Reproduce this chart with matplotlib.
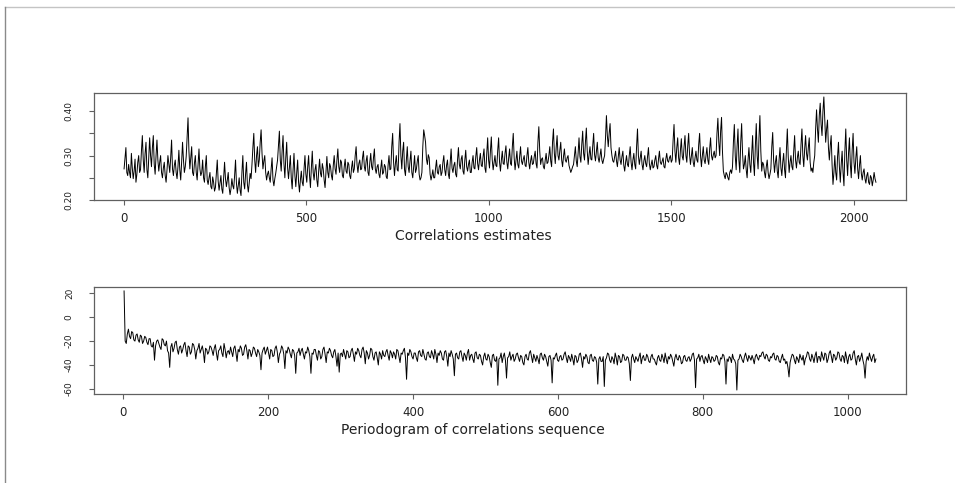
import numpy as np
import matplotlib
matplotlib.use("Agg")
import matplotlib.pyplot as plt
from matplotlib.lines import Line2D

# ---- data ----
# correlation estimates, in thousandths, sampled every ~2.5 steps over 1..2060
corr_milli = [
    270, 295, 318, 262, 255, 280, 262, 250, 305, 272, 248, 265, 292, 240, 258, 285, 300, 262, 268, 310,
    345, 290, 262, 305, 330, 268, 250, 295, 340, 300, 275, 318, 345, 280, 258, 300, 335, 290, 265, 285,
    300, 262, 250, 272, 285, 255, 240, 268, 300, 280, 262, 295, 335, 270, 255, 278, 290, 262, 248, 275,
    312, 268, 245, 285, 330, 290, 262, 275, 298, 340, 385, 310, 270, 295, 320, 262, 255, 282, 300, 262,
    245, 280, 315, 270, 255, 262, 290, 250, 240, 275, 300, 245, 235, 250, 262, 230, 225, 252, 240, 220,
    228, 260, 290, 242, 222, 238, 255, 225, 215, 250, 285, 248, 230, 245, 262, 228, 212, 225, 248, 232,
    225, 255, 290, 238, 215, 232, 250, 222, 210, 262, 300, 240, 225, 258, 285, 235, 218, 240, 260, 248,
    280, 318, 350, 290, 262, 300, 320, 275, 290, 330, 358, 305, 270, 288, 300, 262, 245, 258, 265, 250,
    240, 270, 295, 245, 232, 248, 260, 275, 290, 322, 355, 290, 265, 310, 345, 282, 250, 295, 330, 272,
    248, 275, 300, 250, 225, 268, 305, 255, 230, 262, 290, 240, 218, 245, 265, 240, 232, 270, 300, 258,
    240, 275, 300, 255, 228, 272, 310, 262, 245, 268, 280, 245, 230, 265, 292, 260, 252, 282, 270, 245,
    228, 265, 298, 262, 250, 282, 275, 255, 245, 278, 300, 270, 258, 290, 315, 275, 262, 290, 285, 255,
    250, 275, 292, 265, 260, 285, 280, 255, 248, 272, 288, 262, 270, 300, 320, 280, 262, 282, 290, 268,
    270, 295, 310, 275, 265, 288, 300, 262, 255, 285, 305, 275, 268, 295, 315, 270, 260, 275, 280, 258,
    250, 272, 290, 258, 262, 280, 275, 252, 248, 278, 300, 268, 270, 320, 350, 285, 255, 282, 300, 268,
    265, 330, 372, 300, 270, 310, 330, 268, 255, 290, 320, 275, 262, 288, 310, 262, 250, 275, 300, 262,
    270, 288, 300, 258, 245, 250, 262, 320, 358, 345, 330, 292, 280, 302, 295, 258, 245, 255, 268, 250,
    250, 272, 290, 262, 258, 275, 280, 255, 262, 285, 300, 268, 255, 278, 290, 258, 248, 285, 315, 272,
    262, 278, 285, 258, 252, 290, 318, 280, 270, 292, 300, 265, 258, 290, 312, 275, 265, 280, 290, 262,
    262, 285, 300, 272, 270, 298, 318, 282, 268, 290, 305, 278, 275, 298, 315, 272, 262, 305, 340, 290,
    272, 310, 342, 290, 268, 285, 300, 278, 275, 312, 340, 285, 265, 290, 310, 282, 280, 305, 322, 285,
    270, 295, 315, 282, 278, 320, 350, 295, 268, 290, 310, 280, 272, 298, 320, 288, 280, 292, 300, 278,
    275, 300, 318, 285, 270, 288, 300, 280, 282, 298, 310, 282, 272, 330, 365, 310, 280, 292, 295, 275,
    270, 290, 305, 282, 285, 300, 320, 288, 275, 330, 360, 305, 282, 318, 345, 300, 290, 312, 330, 290,
    275, 298, 315, 290, 285, 295, 300, 278, 270, 262, 268, 275, 280, 300, 320, 288, 275, 305, 340, 298,
    285, 325, 355, 305, 290, 330, 362, 310, 280, 302, 320, 292, 290, 322, 350, 302, 288, 310, 330, 295,
    285, 300, 315, 290, 282, 292, 300, 340, 390, 345, 320, 350, 372, 318, 300, 288, 285, 298, 310, 288,
    275, 298, 318, 290, 280, 298, 310, 278, 265, 285, 300, 280, 275, 300, 320, 285, 268, 290, 305, 280,
    270, 320, 360, 300, 280, 295, 310, 280, 268, 288, 300, 282, 275, 298, 318, 282, 268, 280, 290, 272,
    275, 290, 300, 278, 270, 292, 310, 285, 280, 288, 295, 275, 272, 292, 305, 288, 285, 295, 300, 285,
    290, 335, 370, 310, 285, 318, 340, 295, 280, 312, 338, 298, 290, 320, 345, 300, 285, 322, 350, 302,
    280, 300, 318, 285, 275, 295, 310, 290, 285, 325, 350, 300, 275, 300, 320, 290, 282, 300, 318, 290,
    280, 315, 340, 300, 290, 302, 310, 295, 300, 350, 384, 330, 300, 355, 386, 310, 265, 255, 248, 262,
    258, 250, 245, 262, 268, 260, 275, 330, 370, 300, 268, 320, 360, 290, 262, 330, 372, 305, 270, 280,
    300, 268, 250, 290, 318, 280, 262, 305, 345, 285, 255, 320, 372, 300, 270, 340, 390, 310, 265, 285,
    280, 262, 250, 275, 290, 262, 248, 258, 270, 320, 352, 290, 262, 285, 300, 265, 250, 290, 318, 272,
    255, 285, 305, 268, 250, 312, 360, 298, 262, 285, 300, 275, 268, 310, 345, 290, 272, 295, 310, 285,
    280, 325, 360, 300, 275, 315, 345, 305, 290, 318, 340, 285, 265, 272, 262, 285, 300, 360, 403, 360,
    330, 390, 418, 370, 345, 400, 432, 380, 330, 360, 380, 318, 290, 322, 345, 280, 235, 262, 300, 262,
    245, 298, 330, 275, 240, 280, 310, 262, 232, 310, 360, 290, 255, 305, 340, 280, 250, 312, 350, 285,
    260, 295, 320, 270, 248, 278, 300, 260, 245, 262, 270, 248, 238, 255, 262, 240, 235, 255, 250, 232,
    245, 262, 248, 240,
]
corr_first, corr_last = 1, 2060

# periodogram (dB), sampled every 1.5 steps over 1..1039
period_db = [
    22, -20, -22, -14, -10, -16, -18, -12, -13, -19, -20, -15, -14, -19, -21, -15, -16, -22, -20, -16,
    -17, -21, -23, -18, -18, -24, -25, -21, -36, -24, -20, -19, -22, -25, -27, -18, -19, -23, -24, -20,
    -28, -30, -42, -25, -22, -29, -26, -21, -20, -27, -31, -25, -24, -30, -27, -23, -21, -28, -33, -24,
    -25, -31, -29, -22, -23, -27, -35, -28, -26, -22, -30, -27, -24, -29, -38, -26, -27, -31, -29, -24,
    -25, -28, -32, -26, -23, -30, -36, -28, -27, -24, -30, -33, -22, -27, -34, -29, -28, -31, -25, -29,
    -33, -26, -24, -30, -37, -27, -29, -24, -26, -32, -31, -25, -23, -28, -35, -27, -28, -33, -30, -25,
    -26, -30, -33, -27, -29, -32, -44, -30, -27, -25, -31, -28, -25, -30, -35, -27, -28, -33, -32, -26,
    -24, -29, -38, -31, -29, -24, -26, -31, -43, -28, -30, -25, -27, -31, -34, -27, -28, -32, -47, -30,
    -29, -26, -32, -28, -26, -31, -35, -29, -30, -25, -28, -33, -47, -30, -31, -27, -27, -32, -36, -28,
    -29, -35, -33, -27, -25, -31, -38, -29, -30, -26, -28, -32, -34, -29, -27, -33, -41, -30, -46, -31,
    -30, -33, -27, -31, -35, -28, -29, -34, -33, -28, -26, -31, -37, -29, -31, -26, -28, -32, -34, -27,
    -25, -30, -39, -28, -30, -35, -32, -26, -27, -33, -36, -30, -29, -34, -40, -29, -31, -35, -28, -32,
    -33, -29, -27, -32, -36, -28, -30, -34, -29, -31, -35, -27, -28, -33, -38, -30, -31, -28, -26, -34,
    -52, -30, -32, -27, -29, -33, -35, -30, -30, -34, -37, -29, -28, -32, -33, -27, -31, -35, -36, -30,
    -29, -33, -34, -28, -31, -35, -27, -31, -38, -30, -32, -28, -30, -35, -36, -29, -28, -33, -41, -30,
    -33, -28, -31, -35, -49, -31, -30, -34, -35, -29, -28, -33, -37, -30, -32, -36, -30, -27, -36, -32,
    -31, -35, -38, -30, -29, -34, -35, -31, -32, -37, -40, -33, -30, -35, -36, -31, -33, -38, -42, -32,
    -31, -36, -37, -33, -57, -35, -34, -30, -38, -33, -30, -36, -51, -34, -33, -29, -36, -33, -31, -37,
    -35, -31, -30, -34, -37, -32, -33, -38, -40, -33, -31, -35, -36, -30, -28, -33, -38, -31, -34, -37,
    -32, -35, -39, -31, -30, -34, -36, -31, -33, -37, -41, -33, -32, -36, -55, -34, -35, -32, -30, -36,
    -37, -33, -32, -36, -35, -31, -29, -34, -38, -32, -34, -37, -31, -35, -40, -32, -33, -38, -36, -31,
    -30, -35, -42, -33, -35, -31, -33, -38, -39, -32, -31, -36, -37, -33, -34, -38, -56, -35, -33, -37,
    -37, -33, -58, -36, -34, -30, -31, -36, -38, -33, -35, -39, -30, -34, -40, -32, -33, -38, -37, -31,
    -32, -36, -36, -33, -34, -39, -53, -34, -31, -35, -38, -33, -35, -37, -33, -30, -39, -34, -32, -36,
    -36, -31, -33, -37, -38, -33, -31, -35, -35, -38, -40, -34, -32, -36, -37, -31, -34, -38, -30, -35,
    -39, -33, -35, -31, -33, -37, -41, -34, -31, -35, -36, -32, -34, -39, -38, -33, -32, -36, -37, -34,
    -33, -37, -35, -31, -30, -36, -59, -35, -34, -31, -37, -33, -32, -36, -39, -33, -35, -38, -31, -35,
    -38, -33, -34, -37, -36, -32, -33, -38, -40, -34, -35, -31, -32, -37, -56, -35, -37, -33, -34, -38,
    -31, -35, -36, -39, -61, -36, -35, -31, -33, -36, -38, -33, -30, -34, -37, -32, -34, -36, -32, -35,
    -39, -33, -31, -34, -36, -32, -33, -30, -29, -33, -35, -31, -32, -36, -37, -33, -34, -31, -30, -35,
    -36, -32, -33, -37, -38, -34, -31, -36, -35, -39, -37, -42, -50, -38, -34, -31, -32, -36, -39, -33,
    -35, -38, -31, -34, -36, -32, -40, -35, -33, -29, -30, -35, -37, -31, -34, -38, -32, -29, -38, -33,
    -33, -37, -29, -33, -36, -30, -31, -38, -35, -30, -28, -33, -38, -31, -32, -36, -34, -29, -30, -35,
    -37, -32, -33, -38, -29, -34, -39, -33, -31, -36, -35, -30, -28, -35, -40, -33, -32, -37, -34, -30,
    -36, -40, -51, -37, -33, -36, -30, -34, -37, -33, -31, -38, -35,
]
period_first, period_last = 1, 1039

top_xticks = [0, 500, 1000, 1500, 2000]
top_yticks = [0.20, 0.25, 0.30, 0.35, 0.40]
top_yticklabels = ["0.20", "", "0.30", "", "0.40"]
bot_xticks = [0, 200, 400, 600, 800, 1000]
bot_yticks = [20, 0, -20, -40, -60]
bot_yticklabels = ["20", "0", "-20", "-40", "-60"]
top_title = "Correlations estimates"
bot_title = "Periodogram of correlations sequence"

# ---- drawing ----
W, H = 955, 483
fig = plt.figure(figsize=(W / 100, H / 100), dpi=100)
fig.patch.set_facecolor("white")

# thin page border lines
fig.add_artist(Line2D([5 / W, 1], [1 - 7 / H, 1 - 7 / H], color="#c4c4c4", lw=1.0))
fig.add_artist(Line2D([5 / W, 5 / W], [0, 1 - 7 / H], color="#8a8a8a", lw=1.0))


def rlim(a):
    lo, hi = float(np.min(a)), float(np.max(a))
    d = (hi - lo) * 0.04
    return lo - d, hi + d


def style(ax, xticks, yticks, ylabels):
    for s in ax.spines.values():
        s.set_color("#606060")
        s.set_linewidth(0.9)
    ax.set_xticks(xticks)
    ax.set_xticklabels([str(t) for t in xticks], family="DejaVu Sans", fontsize=8.5, color="#222222")
    ax.set_yticks(yticks)
    ax.set_yticklabels(ylabels, rotation=90, va="center", family="DejaVu Sans",
                       fontsize=6.5, color="#222222")
    ax.tick_params(axis="x", direction="out", length=3.5, width=0.8, color="#606060", pad=5.5)
    ax.tick_params(axis="y", direction="out", length=3.5, width=0.8, color="#606060", pad=11)


axL, axW, axH = 94 / W, (906 - 94) / W, (200 - 93) / H

ax1 = fig.add_axes([axL, 1 - 200 / H, axW, axH])
y1 = np.array(corr_milli) / 1000.0
x1 = np.linspace(corr_first, corr_last, len(y1))
ax1.plot(x1, y1, color="black", lw=0.7)
ax1.set_xlim(rlim(x1))
ax1.set_ylim(rlim(y1))
style(ax1, top_xticks, top_yticks, top_yticklabels)

ax2 = fig.add_axes([axL, 1 - 394 / H, axW, (394 - 287) / H])
y2 = np.array(period_db, dtype=float)
x2 = np.linspace(period_first, period_last, len(y2))
ax2.plot(x2, y2, color="black", lw=0.7)
ax2.set_xlim(rlim(x2))
ax2.set_ylim(rlim(y2))
style(ax2, bot_xticks, bot_yticks, bot_yticklabels)

fig.text(473 / W, 1 - 236 / H, top_title, ha="center", va="center",
         family="DejaVu Sans", fontsize=10, color="#222222")
fig.text(473 / W, 1 - 430 / H, bot_title, ha="center", va="center",
         family="DejaVu Sans", fontsize=10, color="#222222")

fig.savefig("out.png", dpi=100, facecolor="white")
